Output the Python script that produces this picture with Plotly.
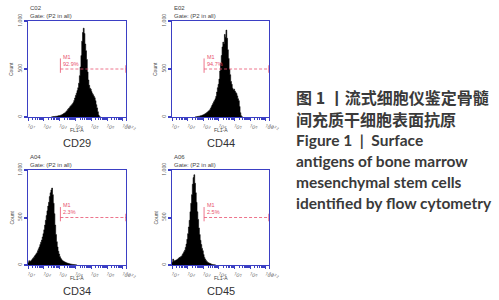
import numpy as np
import plotly.graph_objects as go

W, H = 499, 300

# ---------------- data ----------------
markers = ["CD29", "CD44", "CD34", "CD45"]
wells = ["C02", "E02", "A04", "A06"]
gate_pct = ["92.9%", "94.7%", "2.3%", "2.5%"]
gate_start_log = [3.05, 3.05, 3.05, 3.05]   # log10 FL1-A where gate M1 begins
gate_level = 500                             # y-level of the M1 marker

bin_step = 0.05                               # log10 decade per histogram bin
bin_start = [2.50, 2.50, 1.00, 1.00]

counts_cd29 = [3, 2, 5, 4, 6, 8, 7, 10, 12, 14, 15, 19, 22, 25, 31, 36, 42, 48, 57, 66,
               78, 88, 97, 110, 118, 127, 138, 150, 172, 198, 224, 248, 276, 305, 352,
               430, 520, 640, 790, 880, 925, 870, 760, 690, 600, 470, 385, 330, 300, 290,
               265, 245, 232, 215, 200, 170, 128, 95, 55, 20, 5, 1]
counts_cd44 = [2, 3, 5, 6, 8, 9, 12, 14, 17, 20, 24, 28, 33, 38, 45, 52, 60, 66, 75, 90,
               108, 125, 140, 158, 172, 190, 215, 260, 305, 340, 395, 480, 560, 640, 730,
               780, 760, 860, 830, 905, 820, 700, 610, 500, 440, 370, 340, 300, 285, 290,
               270, 255, 245, 220, 190, 170, 110, 45, 12, 3]
counts_cd34 = [25, 45, 38, 42, 50, 60, 72, 80, 95, 105, 118, 128, 150, 170, 190, 215, 240,
               262, 295, 330, 370, 420, 470, 520, 570, 620, 660, 720, 760, 790, 810, 740,
               650, 540, 420, 320, 245, 190, 145, 115, 88, 70, 58, 48, 42, 36, 32, 28, 24,
               20, 18, 15, 13, 11, 9, 8, 6, 5, 4, 3, 2, 1]
counts_cd45 = [30, 62, 40, 45, 48, 52, 55, 62, 70, 78, 82, 88, 95, 110, 125, 140, 155, 185,
               220, 270, 330, 400, 470, 560, 650, 740, 850, 920, 950, 860, 760, 660, 560,
               480, 390, 320, 260, 215, 175, 150, 110, 80, 62, 48, 38, 30, 24, 20, 16, 12,
               9, 6, 4, 3, 2, 1]
all_counts = [counts_cd29, counts_cd44, counts_cd34, counts_cd45]

x_tick_logs = [1, 2, 3, 4, 5, 6, 7, 7.2]
x_tick_text = ["10<sup>1</sup>", "10<sup>2</sup>", "10<sup>3</sup>", "10<sup>4</sup>",
               "10<sup>5</sup>", "10<sup>6</sup>", "10<sup>7</sup>", "10<sup>7.2</sup>"]
y_tick_vals = [0, 500, 1000]
y_tick_text = ["0", "500", "1,000"]

caption_lines = [
    ("图 1 丨流式细胞仪鉴定骨髓", "cjk"),
    ("间充质干细胞表面抗原", "cjk"),
    ("Figure 1  |  Surface", "en"),
    ("antigens of bone marrow", "en"),
    ("mesenchymal stem cells", "en"),
    ("identified by flow cytometry", "en"),
]

# ---------------- layout (pixels) ----------------
panels_px = [  # x0, x1, ytop, ybottom
    (28, 126, 21, 117),
    (172, 269, 21, 117),
    (28, 126, 170, 265),
    (172, 269, 170, 265),
]
AX = "#3b3fc4"
RED = "#e8506e"
TXT = "#3a3a3a"


def px(x):
    return x / W


def py(y):
    return 1 - y / H


fig = go.Figure()
annotations = []
layout_axes = {}

for i, (x0, x1, yt, yb) in enumerate(panels_px):
    n = i + 1
    xa = "x" if n == 1 else f"x{n}"
    ya = "y" if n == 1 else f"y{n}"
    xkey = "xaxis" if n == 1 else f"xaxis{n}"
    ykey = "yaxis" if n == 1 else f"yaxis{n}"

    cnt = all_counts[i]
    logs = bin_start[i] + bin_step * np.arange(len(cnt))
    xs = np.concatenate([[logs[0]], logs, [logs[-1] + bin_step]])
    ys = np.concatenate([[0], cnt, [0]])
    fig.add_trace(go.Scatter(
        x=10 ** xs, y=ys, xaxis=xa, yaxis=ya, mode="lines",
        line=dict(color="black", width=0.6, shape="hv"),
        fill="tozeroy", fillcolor="black", showlegend=False, hoverinfo="skip"))

    # gate M1
    gx0 = 10 ** gate_start_log[i]
    gx1 = 10 ** 7.2
    fig.add_trace(go.Scatter(
        x=[gx0, gx1], y=[gate_level, gate_level], xaxis=xa, yaxis=ya, mode="lines",
        line=dict(color=RED, width=0.8, dash="3px,2px"), showlegend=False, hoverinfo="skip"))
    fig.add_trace(go.Scatter(
        x=[gx0, gx0], y=[gate_level - 40, gate_level + 110], xaxis=xa, yaxis=ya, mode="lines",
        line=dict(color=RED, width=0.8), showlegend=False, hoverinfo="skip"))
    fig.add_trace(go.Scatter(
        x=[gx1, gx1], y=[gate_level - 40, gate_level + 40], xaxis=xa, yaxis=ya, mode="lines",
        line=dict(color=RED, width=1.2), showlegend=False, hoverinfo="skip"))
    annotations.append(dict(x=gate_start_log[i], y=gate_level + 75, xref=xa, yref=ya,
                            text="M1", showarrow=False, xanchor="left", yanchor="bottom",
                            xshift=1, font=dict(size=5.5, color=RED, family="Arial")))
    annotations.append(dict(x=gate_start_log[i], y=gate_level + 5, xref=xa, yref=ya,
                            text=gate_pct[i], showarrow=False, xanchor="left", yanchor="bottom",
                            xshift=1, font=dict(size=5.5, color=RED, family="Arial")))

    layout_axes[xkey] = dict(
        domain=[px(x0), px(x1)], anchor=ya, type="log", range=[1, 7.2],
        tickvals=[10 ** v for v in x_tick_logs], ticktext=x_tick_text,
        tickfont=dict(size=5, color="#555"), ticks="outside", ticklen=3,
        tickcolor=AX, tickwidth=1.2, automargin=False,
        minor=dict(ticks="outside", ticklen=2, tickcolor=AX, tickwidth=0.8, dtick="D1"),
        showline=True, linecolor=AX, linewidth=1, mirror=True, showgrid=False, zeroline=False,
    )
    layout_axes[ykey] = dict(
        domain=[py(yb), py(yt)], anchor=xa, range=[0, 1000],
        tickvals=y_tick_vals, ticktext=y_tick_text, tickangle=-90,
        tickfont=dict(size=5, color="#555"), ticks="outside", ticklen=3,
        tickcolor=AX, tickwidth=2, automargin=False,
        showline=True, linecolor=AX, linewidth=1, mirror=True, showgrid=False, zeroline=False,
    )

    # axis titles
    annotations.append(dict(x=px((x0 + x1) / 2), y=py(yb + 13), xref="paper", yref="paper",
                            text="FL1-A", showarrow=False, xanchor="center", yanchor="middle",
                            font=dict(size=5, color="#444", family="Arial")))
    annotations.append(dict(x=px(x0 - 17), y=py((yt + yb) / 2), xref="paper", yref="paper",
                            text="Count", showarrow=False, xanchor="center", yanchor="middle",
                            textangle=-90, font=dict(size=5, color="#444", family="Arial")))

    # header text
    annotations.append(dict(x=px(x0), y=py(yt - 13), xref="paper", yref="paper",
                            text=wells[i], showarrow=False, xanchor="left", yanchor="middle",
                            font=dict(size=6, color="#444", family="Arial")))
    annotations.append(dict(x=px(x0), y=py(yt - 5), xref="paper", yref="paper",
                            text="Gate: (P2 in all)", showarrow=False, xanchor="left",
                            yanchor="middle", font=dict(size=6, color="#444", family="Arial")))
    # marker label
    annotations.append(dict(x=px((x0 + x1) / 2), y=py(yb + 26), xref="paper", yref="paper",
                            text=markers[i], showarrow=False, xanchor="center", yanchor="middle",
                            font=dict(size=11, color="#333", family="Liberation Sans")))

# caption
cap_y = [97, 119, 140, 161, 182, 203]
for (txt, kind), yy in zip(caption_lines, cap_y):
    if kind == "cjk":
        f = dict(size=16, color=TXT, family="Noto Sans CJK SC")
    else:
        f = dict(size=15.5, color=TXT, family="Lato")
    annotations.append(dict(x=px(294), y=py(yy), xref="paper", yref="paper",
                            text=f"<b>{txt}</b>", showarrow=False, xanchor="left",
                            yanchor="middle", font=f))

fig.update_layout(
    width=W, height=H, margin=dict(l=0, r=0, t=0, b=0),
    paper_bgcolor="white", plot_bgcolor="white",
    annotations=annotations, showlegend=False, **layout_axes,
)

fig.write_html("out.html", config={"displayModeBar": False},
               post_script="document.body.style.margin='0px';document.body.style.overflow='hidden';")
